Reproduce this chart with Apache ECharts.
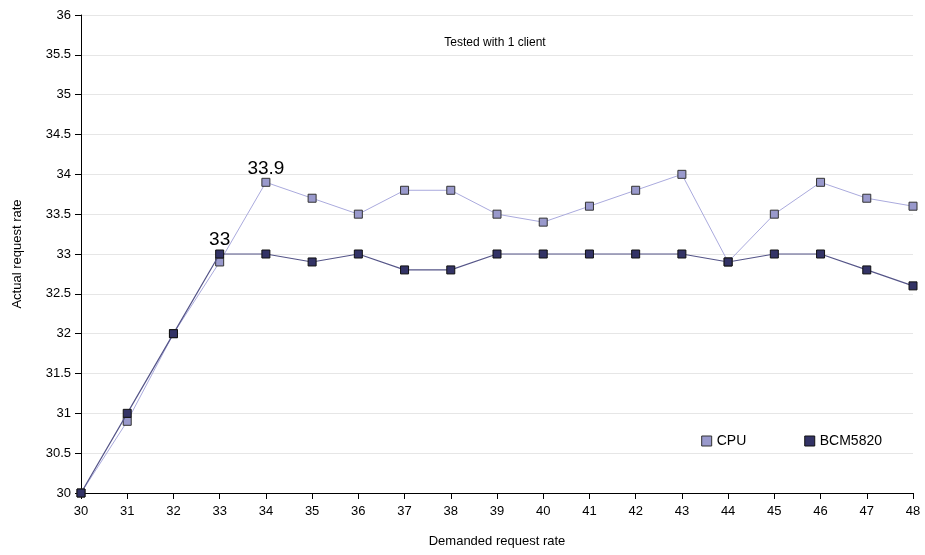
<!DOCTYPE html>
<html><head><meta charset="utf-8">
<script src="https://cdn.jsdelivr.net/npm/echarts@6/dist/echarts.min.js"></script>
<style>html,body{margin:0;padding:0;background:#fff}#c{width:925px;height:555px}</style>
</head><body><div id="c"></div>
<script>
const demanded = [30,31,32,33,34,35,36,37,38,39,40,41,42,43,44,45,46,47,48];
const cpu = [30,30.9,32,32.9,33.9,33.7,33.5,33.8,33.8,33.5,33.4,33.6,33.8,34.0,32.9,33.5,33.9,33.7,33.6];
const bcm = [30,31,32,33,33,32.9,33,32.8,32.8,33,33,33,33,33,32.9,33,33,32.8,32.6];
const cpuLabelIndex = 4;
const bcmLabelIndex = 3;

const font = 'Liberation Sans, Arial, sans-serif';
function build(vals, labelIdx){
  return vals.map((v,i)=>{
    const d = {value:[demanded[i], v]};
    if(i===labelIdx){
      d.label = {show:true, position:'top', formatter:String(v), fontSize:19, color:'#000', fontFamily:font, distance:0};
    }
    return d;
  });
}
const chart = echarts.init(document.getElementById('c'));
chart.setOption({
  animation:false,
  backgroundColor:'#fff',
  title:{text:'Tested with 1 client', left:490, top:32, textAlign:'center',
    textStyle:{fontSize:12, fontWeight:'normal', color:'#000', fontFamily:font}},
  legend:{right:38, top:429, itemWidth:10, itemHeight:10, itemGap:58, icon:'rect',
    textStyle:{fontSize:14, color:'#000', fontFamily:font},
    data:[{name:'CPU', itemStyle:{color:'#9999cc', borderColor:'#333', borderWidth:1}},
          {name:'BCM5820', itemStyle:{color:'#333366', borderColor:'#111', borderWidth:1}}]},
  grid:{left:81, right:12, top:15, bottom:62},
  xAxis:{type:'value', min:30, max:48, interval:1,
    name:'Demanded request rate', nameLocation:'middle', nameGap:42,
    nameTextStyle:{fontSize:13, color:'#000', fontFamily:font},
    axisLine:{lineStyle:{color:'#000', width:1}},
    axisTick:{show:true, length:6, lineStyle:{color:'#000'}},
    axisLabel:{fontSize:13, color:'#000', fontFamily:font, margin:12},
    splitLine:{show:false}},
  yAxis:{type:'value', min:30, max:36, interval:0.5,
    name:'Actual request rate', nameLocation:'middle', nameGap:57,
    nameTextStyle:{fontSize:13, color:'#000', fontFamily:font},
    axisLine:{show:true, lineStyle:{color:'#000', width:1}},
    axisTick:{show:true, length:6, lineStyle:{color:'#000'}},
    axisLabel:{fontSize:13, color:'#000', fontFamily:font, margin:10},
    splitLine:{show:true, lineStyle:{color:'#e6e6e6', width:1}}},
  series:[
    {name:'CPU', type:'line', data:build(cpu, cpuLabelIndex), symbol:'rect', symbolSize:8,
      lineStyle:{color:'#aaaadd', width:1}, itemStyle:{color:'#9999cc', borderColor:'#333', borderWidth:1}, z:2},
    {name:'BCM5820', type:'line', data:build(bcm, bcmLabelIndex), symbol:'rect', symbolSize:8,
      lineStyle:{color:'#555588', width:1.2}, itemStyle:{color:'#333366', borderColor:'#111', borderWidth:1}, z:3}
  ]
});
</script></body></html>
